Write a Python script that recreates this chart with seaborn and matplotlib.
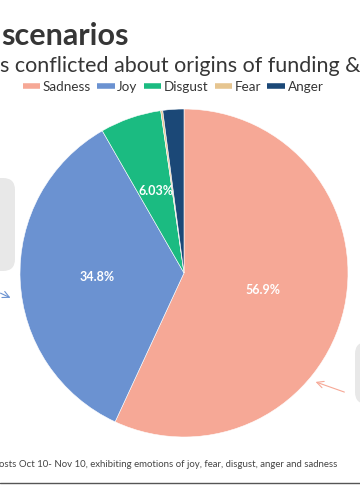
import matplotlib
matplotlib.use("Agg")
import matplotlib.pyplot as plt
import seaborn as sns
import numpy as np
from matplotlib.patches import FancyBboxPatch
from matplotlib.lines import Line2D

# ---- data ----
categories = ["Sadness", "Joy", "Disgust", "Fear", "Anger"]
shares = [56.9, 34.8, 6.03, 0.2, 2.07]
shown_labels = ["56.9%", "34.8%", "6.03%", "", ""]
colors = ["#F6A896", "#6B92D1", "#1BBB81", "#E6C590", "#1B4877"]
title_text = "scenarios"
subtitle_text = "s conflicted about origins of funding &"
footnote_text = "osts Oct 10- Nov 10, exhibiting emotions of joy, fear, disgust, anger and sadness"

sns.set_theme(style="white")
plt.rcParams["font.family"] = ["Lato", "DejaVu Sans"]
palette = sns.color_palette(colors)

W, H = 360, 500
fig = plt.figure(figsize=(W / 100, H / 100), dpi=100)
fig.patch.set_facecolor("white")

# overlay axes in pixel coordinates
bg = fig.add_axes([0, 0, 1, 1])
bg.set_xlim(0, W)
bg.set_ylim(H, 0)
bg.axis("off")

text_col = "#363636"
bg.text(1, 45, title_text, fontsize=22, fontweight="bold", color=text_col, ha="left", va="baseline")
bg.text(0, 72, subtitle_text, fontsize=15.5, color=text_col, ha="left", va="baseline")
bg.text(-1, 467, footnote_text, fontsize=6.9, color="#444444", ha="left", va="baseline")
bg.plot([0, W], [483, 483], color="#555555", lw=1.0)

# gray annotation boxes
bg.add_patch(FancyBboxPatch((-40, 178), 55, 93, boxstyle="round,pad=0,rounding_size=12",
                            fc="#E8E8E8", ec="none"))
bg.add_patch(FancyBboxPatch((355, 342), 60, 62, boxstyle="round,pad=0,rounding_size=12",
                            fc="#E8E8E8", ec="none"))
# arrows
bg.annotate("", xy=(13, 299), xytext=(-2, 292),
            arrowprops=dict(arrowstyle="->", color="#6B92D1", lw=0.8))
bg.annotate("", xy=(313, 381), xytext=(347, 393),
            arrowprops=dict(arrowstyle="->", color="#F6A896", lw=0.8))

# legend
handles = [Line2D([0], [0], color=c, lw=4, solid_capstyle="butt") for c in palette]
leg = fig.legend(handles, categories, loc="center", bbox_to_anchor=(173 / W, 1 - 87 / H),
                 ncol=5, frameon=False, fontsize=9.7, handlelength=1.3, handletextpad=0.2,
                 columnspacing=0.45, borderaxespad=0)
for t in leg.get_texts():
    t.set_color(text_col)

# pie
cx, cy, r = 184, 273, 164
ax = fig.add_axes([(cx - r) / W, (H - cy - r) / H, 2 * r / W, 2 * r / H])
wedges, _ = ax.pie(shares, colors=palette, startangle=90, counterclock=False,
                   wedgeprops=dict(edgecolor="white", linewidth=0.4))
ax.set_xlim(-1, 1)
ax.set_ylim(-1, 1)
ax.set_aspect("equal")
ax.axis("off")

label_dist = [0.49, 0.53, 0.53, 0.6, 0.6]
for w, lab, d in zip(wedges, shown_labels, label_dist):
    if not lab:
        continue
    ang = np.deg2rad((w.theta1 + w.theta2) / 2)
    ax.text(d * np.cos(ang), d * np.sin(ang), lab, ha="center", va="center",
            color="white", fontsize=9, fontweight="bold")

fig.savefig("out.png", dpi=100)
